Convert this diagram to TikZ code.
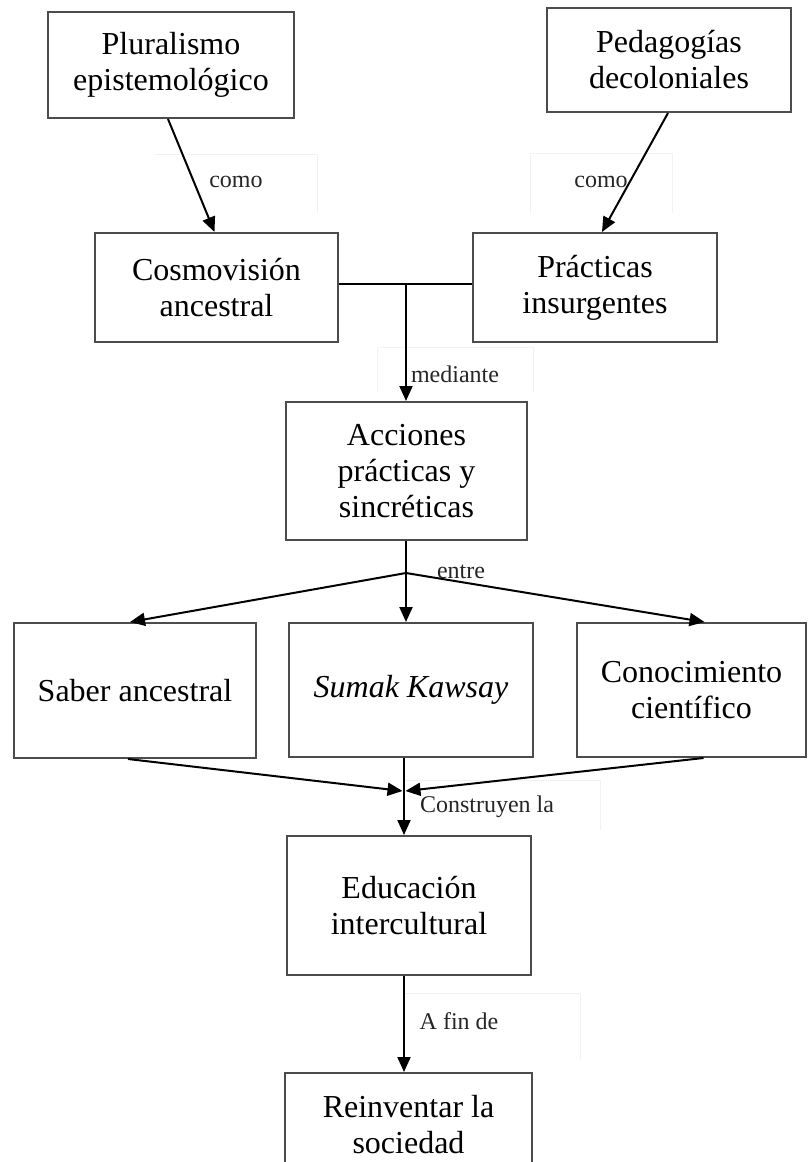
\documentclass[tikz,border=0pt]{standalone}
\usepackage{fontspec}
\setmainfont{Liberation Serif}
\usetikzlibrary{arrows.meta,calc}
\tikzset{
  box/.style={draw=black!70, line width=2pt, align=center, inner sep=0pt,
    font=\fontsize{32}{36}\selectfont},
  arr/.style={draw=black, line width=2pt, -{Triangle[length=15pt,width=13pt]}},
  link/.style={draw=black, line width=2pt},
  lbl/.style={font=\fontsize{24}{27}\selectfont, inner sep=0pt, text=black!85},
  faint/.style={draw=black!5, line width=0.8pt}
}
\begin{document}
\begin{tikzpicture}[x=1pt,y=-1pt]
\useasboundingbox (0,0) rectangle (809,1162);
\clip (0,0) rectangle (809,1162);
\fill[white] (0,0) rectangle (809,1162);

% faint frames behind the connector labels
\draw[faint] (155,154) -- (317,154) -- (317,213);
\draw[faint] (530,213) -- (530,153) -- (672,153) -- (672,213);
\draw[faint] (377,392) -- (377,347) -- (533,347) -- (533,392);
\draw[faint] (404,780) -- (600,780) -- (600,830);
\draw[faint] (405,993) -- (580,993) -- (580,1060);

% boxes
\node[box, minimum width=246pt, minimum height=106pt] (plur) at (171,65) {Pluralismo\\epistemológico};
\node[box, minimum width=244pt, minimum height=104pt] (peda) at (669,60) {Pedagogías\\decoloniales};
\node[box, minimum width=243pt, minimum height=109pt] (cosmo) at (216.5,287.5) {Cosmovisión\\ancestral};
\node[box, minimum width=244pt, minimum height=109pt] (prac) at (595,287.5) {Prácticas\\insurgentes};
\node[box, minimum width=241pt, minimum height=138pt] (acc) at (406.5,471) {Acciones\\prácticas y\\sincréticas};
\node[box, minimum width=242pt, minimum height=135pt] (saber) at (135,690.5) {Saber ancestral};
\node[box, minimum width=244pt, minimum height=134pt] (sumak) at (411,690) {\itshape Sumak Kawsay};
\node[box, minimum width=229pt, minimum height=134pt] (conoc) at (691.5,690) {Conocimiento\\científico};
\node[box, minimum width=244pt, minimum height=139pt] (edu) at (409,905.5) {Educación\\intercultural};
\node[box, minimum width=247pt, minimum height=104pt] (rein) at (408.5,1125) {Reinventar la\\sociedad};

% junction points
\coordinate (j1) at (406,284);
\coordinate (j2) at (406,573);
\coordinate (j3) at (404,791);

% connectors
\draw[arr] ([xshift=-3pt]plur.south) -- ([xshift=-2pt]cosmo.north);
\draw[arr] ([xshift=-1pt]peda.south) -- ([xshift=7pt]prac.north);
\draw[link] (cosmo.east |- j1) -- (prac.west |- j1);
\draw[arr] (j1) -- (j1 |- acc.north);
\draw[link] (acc.south -| j2) -- (j2);
\draw[arr] (j2) -- (j2 |- sumak.north);
\draw[arr] (j2) -- ([xshift=-5pt]saber.north);
\draw[arr] (j2) -- ([xshift=13pt]conoc.north);
\draw[arr] ([xshift=-7pt]saber.south) -- ([xshift=-1.5pt]j3);
\draw[arr] ([xshift=12pt]conoc.south) -- ([xshift=1.5pt]j3);
\draw[arr] (sumak.south -| j3) -- (edu.north -| j3);
\draw[arr] (edu.south -| j3) -- (rein.north -| j3);

% connector labels
\node[lbl] (l1) at (236,182) {como};
\node[lbl] (l2) at (601,182) {como};
\node[lbl] (l3) at (455,374) {mediante};
\node[lbl] (l4) at (461,572) {entre};
\node[lbl] (l5) at (487,807) {Construyen la};
\node[lbl] (l6) at (459,1021) {A fin de};
\end{tikzpicture}
\end{document}
